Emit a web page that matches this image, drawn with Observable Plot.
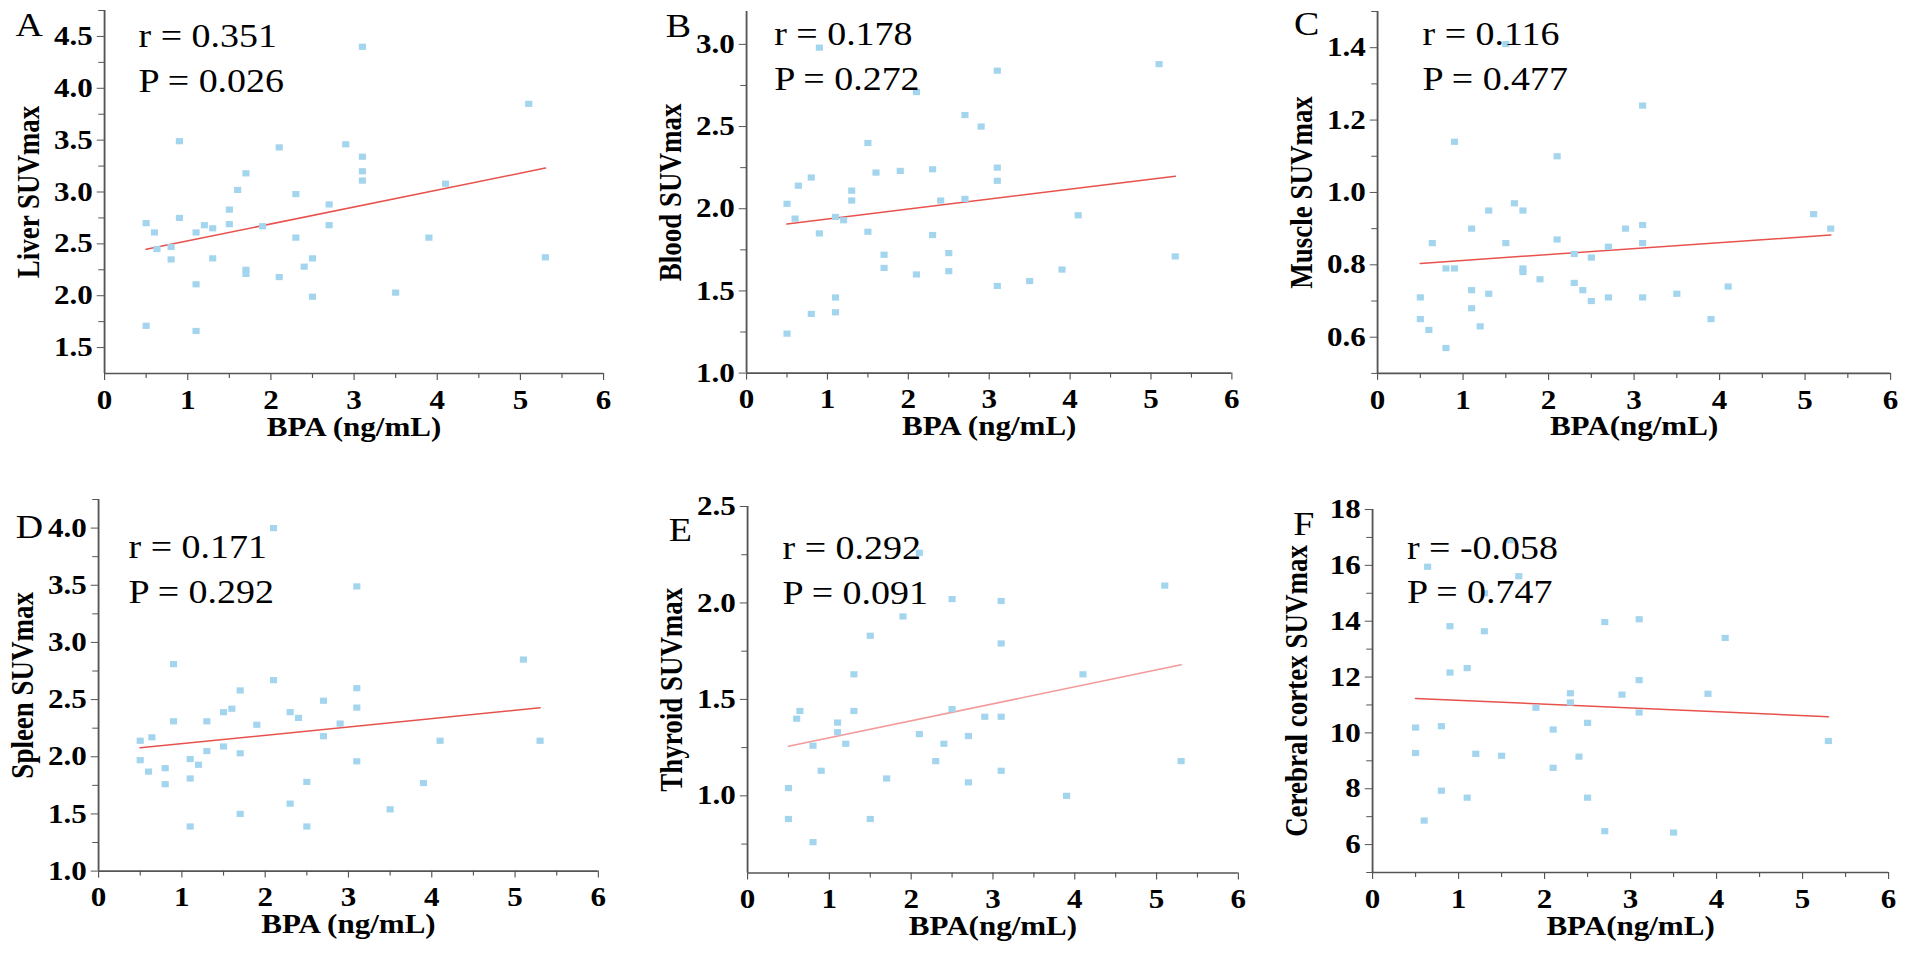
<!DOCTYPE html>
<html><head><meta charset="utf-8">
<script src="https://cdn.jsdelivr.net/npm/d3@7"></script>
<script src="https://cdn.jsdelivr.net/npm/@observablehq/plot@0.6"></script>
<style>
html,body{margin:0;padding:0;background:#fff;overflow:hidden}
#fig{position:relative;width:1907px;height:961px;background:#fff;overflow:hidden}
#fig svg{position:absolute}
</style></head><body><div id="fig"></div>
<script>
// ---- data ----
const liverBPA = [0.5,0.5,0.6,0.63,0.8,0.8,0.9,0.9,1.1,1.1,1.1,1.2,1.3,1.3,1.5,1.5,1.6,1.7,1.7,1.7,1.9,2.1,2.1,2.3,2.3,2.4,2.5,2.5,2.7,2.7,2.9,3.1,3.1,3.1,3.1,3.5,3.9,4.1,5.1,5.3];
const liverSUV = [2.70,1.71,2.61,2.45,2.47,2.35,3.49,2.75,2.61,2.11,1.66,2.68,2.65,2.36,2.83,2.69,3.02,3.18,2.25,2.21,2.67,3.43,2.18,2.98,2.56,2.28,2.36,1.99,2.88,2.68,3.46,4.40,3.34,3.20,3.11,2.03,2.56,3.08,3.85,2.37];
const bloodBPA = [0.5,0.5,0.6,0.64,0.8,0.8,0.9,0.9,1.1,1.1,1.1,1.2,1.3,1.3,1.5,1.5,1.6,1.7,1.7,1.9,2.1,2.1,2.3,2.3,2.4,2.5,2.5,2.7,2.7,2.9,3.1,3.1,3.1,3.1,3.5,3.9,4.1,5.1,5.3];
const bloodSUV = [2.03,1.24,1.94,2.14,2.19,1.36,2.98,1.85,1.95,1.46,1.37,1.93,2.11,2.05,2.40,1.86,2.22,1.72,1.64,2.23,2.71,1.60,2.24,1.84,2.05,1.73,1.62,2.57,2.06,2.50,2.84,2.25,2.17,1.53,1.56,1.63,1.96,2.88,1.71];
const muscleBPA = [0.5,0.5,0.6,0.64,0.8,0.8,0.9,0.9,1.1,1.1,1.1,1.2,1.3,1.3,1.5,1.5,1.6,1.7,1.7,1.7,1.9,2.1,2.1,2.3,2.3,2.4,2.5,2.5,2.7,2.7,2.9,3.1,3.1,3.1,3.1,3.5,3.9,4.1,5.1,5.3];
const muscleSUV = [0.71,0.65,0.62,0.86,0.79,0.57,0.79,1.14,0.90,0.73,0.68,0.63,0.95,0.72,1.41,0.86,0.97,0.95,0.79,0.78,0.76,1.10,0.87,0.83,0.75,0.73,0.82,0.70,0.85,0.71,0.90,0.91,0.86,1.24,0.71,0.72,0.65,0.74,0.94,0.90];
const spleenBPA = [0.5,0.5,0.6,0.64,0.8,0.8,0.9,0.9,1.1,1.1,1.1,1.2,1.3,1.3,1.5,1.5,1.6,1.7,1.7,1.7,1.9,2.1,2.1,2.3,2.3,2.4,2.5,2.5,2.7,2.7,2.9,3.1,3.1,3.1,3.1,3.5,3.9,4.1,5.1,5.3];
const spleenSUV = [2.14,1.97,1.87,2.17,1.90,1.76,2.81,2.31,1.98,1.81,1.39,1.93,2.31,2.05,2.39,2.09,2.42,2.58,2.03,1.50,2.28,4.00,2.67,2.39,1.59,2.34,1.78,1.39,2.49,2.18,2.29,3.49,2.60,2.43,1.96,1.54,1.77,2.14,2.85,2.14];
const thyroidBPA = [0.5,0.5,0.6,0.64,0.8,0.8,0.9,1.1,1.1,1.2,1.3,1.3,1.5,1.5,1.7,1.9,2.1,2.1,2.3,2.4,2.5,2.5,2.7,2.7,2.9,3.1,3.1,3.1,3.1,3.9,4.1,5.1,5.3];
const thyroidSUV = [1.04,0.88,1.40,1.44,1.26,0.76,1.13,1.38,1.33,1.27,1.63,1.44,1.83,0.88,1.09,1.93,2.26,1.32,1.18,1.27,2.02,1.45,1.31,1.07,1.41,2.01,1.79,1.41,1.13,1.00,1.63,2.09,1.18];
const cortexBPA = [0.5,0.5,0.6,0.64,0.8,0.8,0.9,0.9,1.1,1.1,1.2,1.3,1.3,1.5,1.6,1.7,1.9,2.1,2.1,2.3,2.3,2.4,2.5,2.5,2.7,2.7,2.9,3.1,3.1,3.1,3.5,3.9,4.1,5.3];
const cortexSUV = [10.19,9.28,6.86,15.95,10.24,7.93,13.82,12.16,12.32,7.68,9.25,15.0,13.64,9.18,16.9,15.61,10.90,10.12,8.75,11.42,11.09,9.15,10.36,7.68,13.97,6.48,11.37,14.07,11.89,10.73,6.43,11.40,13.40,9.71];

const panelLetters = ["A","B","C","D","E","F"];
const rValues = ["0.351","0.178","0.116","0.171","0.292","-0.058"];
const pValues = ["0.026","0.272","0.477","0.292","0.091","0.747"];
const yLabels = ["Liver SUVmax","Blood SUVmax","Muscle SUVmax","Spleen SUVmax","Thyroid SUVmax","Cerebral cortex SUVmax"];
const xLabels = ["BPA (ng/mL)","BPA (ng/mL)","BPA(ng/mL)","BPA (ng/mL)","BPA(ng/mL)","BPA(ng/mL)"];
const xTicks = [0,1,2,3,4,5,6];
const xMinorTicks = [0.5,1.5,2.5,3.5,4.5,5.5];
const yDomains = [[1.25,4.75],[1.0,3.2],[0.5,1.5],[1.0,4.25],[0.6,2.5],[5,18]];
const yTicks = [[1.5,2.0,2.5,3.0,3.5,4.0,4.5],[1.0,1.5,2.0,2.5,3.0],[0.6,0.8,1.0,1.2,1.4],[1.0,1.5,2.0,2.5,3.0,3.5,4.0],[1.0,1.5,2.0,2.5],[6,8,10,12,14,16,18]];
const yMinorTicks = [[1.75,2.25,2.75,3.25,3.75,4.25,4.75],[1.25,1.75,2.25,2.75],[0.5,0.7,0.9,1.1,1.3,1.5],[1.25,1.75,2.25,2.75,3.25,3.75,4.25],[0.75,1.25,1.75,2.25],[5,7,9,11,13,15,17]];
const yFormats = [".1f",".1f",".1f",".1f",".1f","d"];
const xs = [liverBPA,bloodBPA,muscleBPA,spleenBPA,thyroidBPA,cortexBPA];
const ys = [liverSUV,bloodSUV,muscleSUV,spleenSUV,thyroidSUV,cortexSUV];

// ---- layout (page pixels) ----
const S = 1.15; // horizontal stretch of the original figure
const frames = [[104,603,10,373],[745.7,1231,11.4,373],[1376.7,1889.7,11.1,373],[97.7,597.5,499.4,871],[746.7,1237.5,506,872.5],[1372.3,1888.3,509.3,872.3]];
const letterPos = [[-89,25],[-80.7,25.6],[-83.7,24],[-82.7,38.6],[-78.7,34],[-79.3,25.7]];
const statPos = [[34,36,81],[27.6,33.6,78.6],[45,34,79],[30,58.6,104],[35,52.3,97.3],[34.4,49,93.4]];
const lineColors = ["#e8524c","#e8524c","#e8524c","#e8524c","#f39a9a","#e8524c"];
const dotColor = "#a3d5ee";
const axisColor = "#555";
const font = "'Liberation Serif','Times New Roman',Times,serif";

const fig = document.getElementById("fig");
for (let i = 0; i < 6; i++) {
  const [L,R,T,B] = frames[i];
  const mL = 100/S, mR = 25/S, mT = 45, mB = 105;
  const W = (R - L + 125)/S;
  const H = (B - T) + mT + mB;
  const data = xs[i].map((x,j) => ({x, y: ys[i][j]}));
  const svg = Plot.plot({
    width: W, height: H,
    marginLeft: mL, marginRight: mR, marginTop: mT, marginBottom: mB,
    x: {domain: [0,6]},
    y: {domain: yDomains[i]},
    style: {fontFamily: font, fontSize: "27px", fontWeight: "bold", color: "black", background: "transparent", overflow: "visible"},
    marks: [
      Plot.axisX(xTicks, {tickSize: 7, tickPadding: 9, tickFormat: "d", stroke: axisColor, fill: "black", fontSize: 27,
        label: xLabels[i], labelAnchor: "center", labelOffset: 62, labelArrow: "none"}),
      Plot.axisX(xMinorTicks, {tickSize: 5, tickFormat: () => "", label: null, stroke: axisColor}),
      Plot.axisY(yTicks[i], {tickSize: 6.3, tickPadding: 4, tickFormat: yFormats[i], stroke: axisColor, fill: "black", fontSize: 27,
        label: yLabels[i], labelAnchor: "center", labelOffset: 76, labelArrow: "none"}),
      Plot.axisY(yMinorTicks[i], {tickSize: 5, tickFormat: () => "", label: null, stroke: axisColor}),
      Plot.ruleX([0], {stroke: axisColor, strokeWidth: 1.6}),
      Plot.ruleY([yDomains[i][0]], {stroke: axisColor, strokeWidth: 1.6}),
      Plot.linearRegressionY(data, {x: "x", y: "y", stroke: lineColors[i], strokeWidth: 1.5, ci: 0}),
      Plot.dot(data, {x: "x", y: "y", symbol: "square", r: 3.5, fill: dotColor, stroke: null}),
      Plot.text([panelLetters[i]], {text: d => d, frameAnchor: "top-left", dx: letterPos[i][0]/S, dy: letterPos[i][1],
        textAnchor: "start", lineAnchor: "bottom", fontSize: 33, fontWeight: "normal", fill: "black"}),
      Plot.text(["r = " + rValues[i]], {text: d => d, frameAnchor: "top-left", dx: statPos[i][0]/S, dy: statPos[i][1],
        textAnchor: "start", lineAnchor: "bottom", fontSize: 33, fontWeight: "normal", fill: "black"}),
      Plot.text(["P = " + pValues[i]], {text: d => d, frameAnchor: "top-left", dx: statPos[i][0]/S, dy: statPos[i][2],
        textAnchor: "start", lineAnchor: "bottom", fontSize: 33, fontWeight: "normal", fill: "black"})
    ]
  });
  svg.setAttribute("preserveAspectRatio", "none");
  svg.style.maxWidth = "none";
  svg.style.width = (W*S) + "px";
  svg.style.height = H + "px";
  svg.style.left = (L - 100) + "px";
  svg.style.top = (T - mT) + "px";
  fig.appendChild(svg);
}
</script></body></html>
